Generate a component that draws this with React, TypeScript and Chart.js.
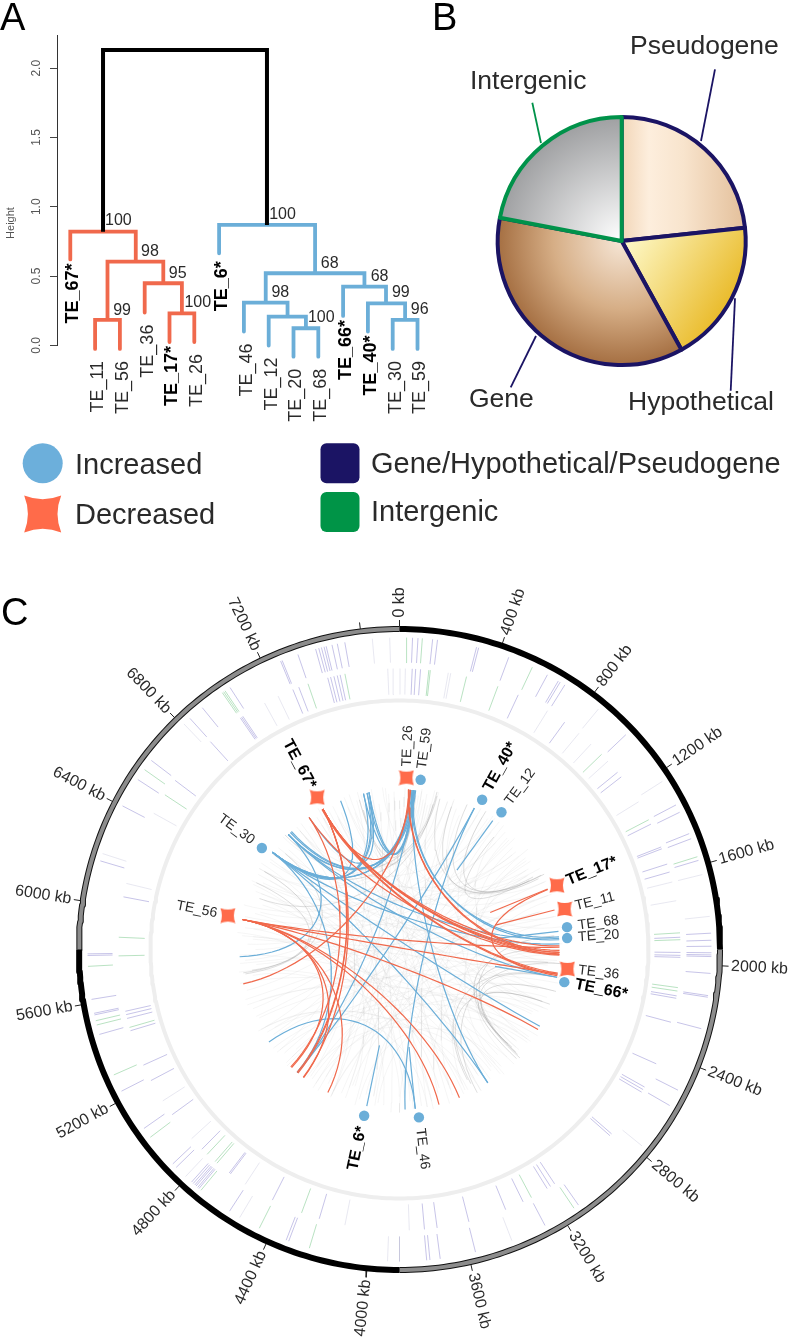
import { useEffect, useRef } from "react";
import { Chart, registerables } from "chart.js";

Chart.register(...registerables);

const FONT = '"Liberation Sans", Arial, sans-serif';
const BLUE = "#6baed8";
const ORANGE = "#f0694c";
const NAVY = "#1b1464";
const GREEN = "#00924a";

/* ---------- Panel A: dendrogram ---------- */
const heightTicks = [0, 0.5, 1, 1.5, 2];
const leafNames = ["TE_67*", "TE_11", "TE_56", "TE_36", "TE_17*", "TE_26", "TE_6*", "TE_46", "TE_12", "TE_20", "TE_68", "TE_66*", "TE_40*", "TE_30", "TE_59"];
const leafBottoms = [0.62, -0.026, -0.026, 0.236, 0.024, 0.024, 0.664, 0.099, -0.002, -0.082, -0.082, 0.212, 0.099, -0.026, -0.026];
// merges: left x, left bottom, right x, right bottom, merge height
const decreasedMerges = [
  [0, 0.62, 2.64, 0.604, 0.82],
  [1.5, 0.183, 3.75, 0.448, 0.604],
  [1, -0.026, 2, -0.026, 0.183],
  [3, 0.236, 4.5, 0.231, 0.448],
  [4, 0.024, 5, 0.024, 0.231],
];
const increasedMerges = [
  [6, 0.664, 9.87, 0.52, 0.869],
  [7.88, 0.308, 11.86, 0.424, 0.52],
  [7, 0.099, 8.76, 0.207, 0.308],
  [8, -0.002, 9.5, 0.123, 0.207],
  [9, -0.082, 10, -0.082, 0.123],
  [11, 0.212, 12.73, 0.303, 0.424],
  [12, 0.099, 13.5, 0.183, 0.303],
  [13, -0.026, 14, -0.026, 0.183],
];
const rootMerge = [[1.32, 0.82, 7.93, 0.869, 2.132]];
const supportText = ["100", "98", "95", "100", "99", "100", "68", "68", "98", "99", "96", "100"];
const supportX = [1.4, 2.85, 3.97, 4.6, 1.73, 8.02, 10.1, 12.11, 8.11, 12.97, 13.73, 9.58];
const supportY = [0.905, 0.681, 0.525, 0.315, 0.26, 0.953, 0.599, 0.505, 0.387, 0.385, 0.262, 0.207];

/* ---------- Panel B: pie ---------- */
const pieLabels = ["Pseudogene", "Hypothetical", "Gene", "Intergenic"];
const pieValues = [23.3, 18.7, 36, 22];

/* ---------- Panel C: circular map ---------- */
const genomeKb = 7750;
const kbTicks = [0, 400, 800, 1200, 1600, 2000, 2400, 2800, 3200, 3600, 4000, 4400, 4800, 5200, 5600, 6000, 6400, 6800, 7200];
const extraKbTicks = [7600];
const ringBlack = [[0, 1937.5], [3875, 5812.5]];
const ringGray = [[1937.5, 3875], [5812.5, 7750]];

// feature positions around the ring, degrees clockwise from 0 kb
const outerGene = [2.4, 3.4, 6.1, 7, 14.3, 14.7, 20.5, 28.3, 30.6, 31, 32, 46.5, 62.4, 63.9, 68.2, 69.2, 73.4, 87, 88.3, 89.4, 90.6, 91, 91.3, 94.4, 98.5, 98.8, 104.7, 116.8, 120, 145, 152.2, 165.9, 172.5, 174.4, 175, 200.8, 201.3, 213, 220, 220.3, 220.7, 221, 221.4, 221.8, 225.7, 226.6, 235, 243, 254.2, 257.9, 258.2, 260.8, 268.9, 269.2, 286.5, 297.4, 303, 307.3, 317.8, 320.8, 327.1, 337.6, 337.9, 341, 344.4, 345, 345.5, 346, 346.4, 347.5, 348.5, 349.9];
const outerIntergenic = [1.3, 4.2, 25.2, 72.7, 146, 196.8, 206.7, 219.5, 233, 246.3, 256, 256.8, 266.9, 305.2, 325.4, 325.7, 326];
const outerFaint = [39.6, 57.4, 76.1, 83.9, 129, 158.9, 180, 182.2, 210.8, 223.3, 287.9, 316.3, 355, 358.2];
const innerGene = [2.6, 3.3, 4.3, 25, 36, 50.9, 52.1, 63.5, 68.6, 69, 72.3, 74, 87.5, 90.6, 91.2, 91.6, 99.5, 100, 105, 114, 119.3, 119.9, 120.5, 131, 131.5, 146.5, 147.5, 148.3, 153.9, 157.8, 165.7, 172.3, 174.9, 196.6, 206.9, 217, 217.3, 224.7, 234, 242.2, 245.7, 253.2, 255.8, 256.6, 257.3, 280.8, 307, 317.7, 325.5, 325.8, 326.1, 337.7, 339, 345.2, 345.8, 346.5, 347.2, 347.8];
const innerIntergenic = [6, 6.3, 13.8, 20.5, 46, 62.5, 86.6, 88, 97.8, 98.5, 152, 200.4, 220.5, 221, 223.2, 253.9, 268.7, 272.5, 303.4, 341, 348.8];
const innerFaint = [357.6, 358.7, 0.1, 1.2, 10, 10.5, 31.8, 39.7, 43, 47.9, 58.3, 76.1, 80, 178, 191.2, 213.3, 227.7, 237.4, 283.6, 299, 331.3, 334.4];

// transposon insertions: degrees and distance from the ring centre
const markerNames = ["TE_67*", "TE_26", "TE_59", "TE_40*", "TE_12", "TE_17*", "TE_11", "TE_68", "TE_20", "TE_36", "TE_66*", "TE_46", "TE_6*", "TE_56", "TE_30"];
const markerDeg = [331.6, 2.3, 7.1, 28.9, 36.6, 67.8, 76.2, 82.4, 86.1, 96.6, 101.2, 173.4, 192, 281.2, 306.4];
const markerDist = [173, 172, 171, 171, 171, 170, 170, 169, 168, 169, 168, 169, 170, 175, 171];
const markerDecreased = [true, true, false, false, false, true, true, false, false, true, false, false, false, true, false];

// links: degrees at each end
const decreasedLinks = [
  [331.4, 91], [331.4, 90.3], [331.4, 91.6], [325.6, 92], [331.4, 88.7], [331.4, 98.5], [331, 99],
  [331.4, 219.4], [331.4, 219.8], [325.6, 222.8], [331.4, 217], [257.6, 4],
  [280.8, 89.2], [280.8, 98.8], [280.8, 120], [280.8, 158], [280.8, 165.7], [280.8, 206.6], [280.8, 216.8], [280.8, 222.4],
  [68, 99.4], [3.4, 91], [3.2, 91.8], [331.4, 3.4],
];
const increasedLinks = [
  [307.4, 348.3], [307.4, 347], [307.4, 349], [307.4, 338.4], [307.4, 5.2], [307.4, 5.8], [315.9, 4.5], [317.5, 4], [316, 3.8], [317, 5],
  [307.4, 118.7], [307.4, 146.5], [316, 267.4], [307.4, 219.8], [5, 219.7], [27.9, 178], [27.9, 219.7], [5, 146.5],
  [315.9, 86], [307.4, 88], [4.5, 85.5], [5, 86.5], [316, 100], [234.7, 174.3],
  [347, 5], [348.3, 5.2], [349, 5.5], [325.6, 349],
];
// short radial stubs: degrees, inner and outer distance
const decreasedStubs = [[67.8, 98, 160], [75.7, 99, 160]];
const increasedStubs = [[35.9, 98, 159], [191.8, 98, 160], [174.4, 98, 160], [100, 97, 160], [83.5, 98, 160]];
const backgroundLinks = [
  [10, 200], [12, 150], [14, 300], [15, 270], [18, 240], [20, 170], [22, 110], [24, 60], [30, 210], [32, 130], [34, 255], [38, 190], [40, 95],
  [42, 285], [44, 160], [46, 225], [48, 105], [50, 320], [52, 180], [54, 125], [56, 245], [58, 140], [60, 300],
  [70, 215], [72, 155], [78, 265], [80, 135], [84, 235], [88, 295], [92, 205], [94, 275], [96, 165], [102, 250], [106, 310], [108, 188], [112, 230], [114, 340], [116, 275],
  [122, 258], [124, 328], [126, 212], [128, 292], [135, 262], [137, 335], [139, 195], [141, 298], [143, 225],
  [148, 280], [150, 345], [154, 238], [156, 305], [160, 260], [162, 355], [164, 290], [168, 320], [170, 240], [176, 330], [180, 278], [183, 350],
  [186, 300], [189, 20], [193, 60], [196, 8], [199, 75], [202, 45], [205, 90], [208, 358], [210, 115], [212, 35], [214, 85], [216, 145], [218, 10], [224, 70], [226, 125],
  [228, 55], [232, 105], [236, 28], [238, 75], [240, 150], [244, 95], [248, 42], [250, 120], [252, 65], [264, 80], [266, 30], [268, 125],
  [272, 50], [274, 100], [276, 140], [278, 18], [282, 70], [284, 155], [286, 38], [288, 110], [292, 85], [294, 175], [296, 52], [298, 128], [302, 168], [304, 92], [310, 68],
  [312, 148], [314, 36], [318, 198], [320, 112], [322, 178], [324, 58], [328, 145], [330, 205], [333, 120], [335, 78], [337, 190], [340, 100], [342, 160], [344, 215], [346, 65],
  [350, 130], [352, 200], [354, 82], [356, 230], [358, 172], [0, 142], [2, 205], [6, 305], [7, 315], [8, 320], [9, 330], [11, 335], [12.5, 342],
];
const bundleLinks = [
  [13.7, 307], [13, 290], [13.4, 315], [345.5, 5], [345, 6],
  [62.3, 25], [61.5, 20], [62, 40], [62.5, 32], [63, 15],
  [131.6, 100], [131, 95], [132, 105], [131, 90], [131.4, 85], [133, 110],
  [152, 110], [152.5, 100], [151.5, 95],
  [261, 300], [261.5, 295], [262, 310],
];
const linkReach = [158, 149, 162, 144, 155, 160, 152, 147, 163, 156];

const rad = (d: number) => (d * Math.PI) / 180;
const polar = (deg: number, r: number) => ({ x: r * Math.sin(rad(deg)), y: r * Math.cos(rad(deg)) });
const kbToDeg = (kb: number) => (kb / genomeKb) * 360;
const BREAK = { x: NaN, y: NaN };

function bezier(a: number, b: number, r = 160, k = 0.47) {
  const A = polar(a, r);
  const B = polar(b, r);
  const out: { x: number; y: number }[] = [];
  const n = 28;
  for (let i = 0; i <= n; i++) {
    const t = i / n;
    const u = 1 - t;
    const c0 = u * u * u;
    const c1 = 3 * u * u * t * k;
    const c2 = 3 * u * t * t * k;
    const c3 = t * t * t;
    out.push({ x: (c0 + c1) * A.x + (c2 + c3) * B.x, y: (c0 + c1) * A.y + (c2 + c3) * B.y });
  }
  return out;
}

function arcPoints(kb0: number, kb1: number, r: number) {
  const d0 = kbToDeg(kb0);
  const d1 = kbToDeg(kb1);
  const out: { x: number; y: number }[] = [];
  const n = Math.ceil(d1 - d0);
  for (let i = 0; i <= n; i++) out.push(polar(d0 + ((d1 - d0) * i) / n, r));
  return out;
}

function radial(list: number[], r0: number, r1: number) {
  const out: { x: number; y: number }[] = [];
  list.forEach((d) => out.push(polar(d, r0), polar(d, r1), BREAK));
  return out;
}

function mergePath(list: number[][]) {
  const out: { x: number; y: number }[] = [];
  list.forEach(([lx, lb, rx, rb, h]) => {
    out.push({ x: lx, y: lb }, { x: lx, y: h }, { x: rx, y: h }, { x: rx, y: rb }, BREAK);
  });
  return out;
}

function starPath(ctx: CanvasRenderingContext2D, cx: number, cy: number, s: number) {
  const p = 0.6 * s;
  ctx.beginPath();
  ctx.moveTo(cx - s, cy - s);
  ctx.quadraticCurveTo(cx, cy - p, cx + s, cy - s);
  ctx.quadraticCurveTo(cx + p, cy, cx + s, cy + s);
  ctx.quadraticCurveTo(cx, cy + p, cx - s, cy + s);
  ctx.quadraticCurveTo(cx - p, cy, cx - s, cy - s);
  ctx.closePath();
}

function text(ctx: CanvasRenderingContext2D, s: string, x: number, y: number, size: number, opts: { bold?: boolean; rot?: number; align?: CanvasTextAlign; color?: string } = {}) {
  ctx.save();
  ctx.translate(x, y);
  ctx.rotate(opts.rot || 0);
  ctx.font = `${opts.bold ? "bold " : ""}${size}px ${FONT}`;
  ctx.fillStyle = opts.color || (opts.bold ? "#000" : "#2a2a2a");
  ctx.textAlign = opts.align || "left";
  ctx.textBaseline = "middle";
  ctx.fillText(s, 0, 0);
  ctx.restore();
}

const base = {
  responsive: false,
  animation: false as const,
  events: [] as never[],
  plugins: { legend: { display: false }, tooltip: { enabled: false } },
};

export default function App() {
  const aRef = useRef<HTMLCanvasElement>(null);
  const bRef = useRef<HTMLCanvasElement>(null);
  const cRef = useRef<HTMLCanvasElement>(null);

  useEffect(() => {
    /* ---- Panel A ---- */
    const a = new Chart(aRef.current!, {
      type: "scatter",
      data: {
        datasets: [
          { data: mergePath(rootMerge), showLine: true, pointRadius: 0, borderColor: "#000", borderWidth: 4, borderCapStyle: "butt", borderJoinStyle: "miter", clip: false },
          { data: mergePath(decreasedMerges), showLine: true, pointRadius: 0, borderColor: ORANGE, borderWidth: 3.8, borderCapStyle: "round", borderJoinStyle: "miter", clip: false },
          { data: mergePath(increasedMerges), showLine: true, pointRadius: 0, borderColor: BLUE, borderWidth: 3.8, borderCapStyle: "round", borderJoinStyle: "miter", clip: false },
        ],
      },
      options: {
        ...base,
        layout: { autoPadding: false, padding: { left: 57, top: 35, right: 10, bottom: 430 - 345.3 } },
        scales: {
          x: { type: "linear", display: false, min: -0.536, max: 15.31 },
          y: {
            type: "linear",
            min: 0,
            max: 2.24,
            afterFit: (s: any) => { s.width = 0; },
            ticks: { display: false, stepSize: 0.5, includeBounds: false },
            grid: { drawOnChartArea: false, drawTicks: true, tickLength: 7, color: "#444", lineWidth: 1 },
            border: { display: true, color: "#333", width: 1 },
          },
        },
      },
      plugins: [{
        id: "dendroText",
        afterDatasetsDraw(chart: any) {
          const { ctx, scales: { x, y } } = chart;
          text(ctx, "A", 0, 20, 38, { color: "#000" });
          heightTicks.forEach((v) => text(ctx, v.toFixed(1), 37, y.getPixelForValue(v), 12, { rot: -Math.PI / 2, align: "center", color: "#555" }));
          text(ctx, "Height", 11, 223, 11, { rot: -Math.PI / 2, align: "center", color: "#555" });
          supportText.forEach((s, i) => text(ctx, s, x.getPixelForValue(supportX[i]), y.getPixelForValue(supportY[i]) + 1, 16));
          leafNames.forEach((n, i) => {
            const bold = n.endsWith("*");
            const gap = n === "TE_6*" ? 8 : bold ? 4 : 12;
            text(ctx, n, x.getPixelForValue(i) + 3, y.getPixelForValue(leafBottoms[i]) + gap, 18, { bold, rot: -Math.PI / 2, align: "right" });
          });
        },
      }],
    } as any);

    /* ---- Panel B ---- */
    const gradient = (c: any) => {
      const area = c.chart.chartArea;
      if (!area) return "#ccc";
      const g = c.chart.ctx as CanvasRenderingContext2D;
      const cx = (area.left + area.right) / 2;
      const cy = (area.top + area.bottom) / 2;
      const R = 124;
      let fill: CanvasGradient;
      if (c.dataIndex === 0) {
        fill = g.createLinearGradient(cx, cy, cx + R, cy);
        fill.addColorStop(0, "#f2d6b8");
        fill.addColorStop(0.22, "#fdeedd");
        fill.addColorStop(0.5, "#f8e4cd");
        fill.addColorStop(1, "#e3bf9a");
      } else if (c.dataIndex === 1) {
        fill = g.createLinearGradient(cx + 5, cy + 5, cx + R * 0.9, cy + R * 0.6);
        fill.addColorStop(0, "#fdf7c4");
        fill.addColorStop(1, "#e8b61e");
      } else if (c.dataIndex === 2) {
        fill = g.createRadialGradient(cx, cy, 0, cx, cy, R);
        fill.addColorStop(0, "#f6e6d6");
        fill.addColorStop(0.55, "#d6ae86");
        fill.addColorStop(1, "#a56f42");
      } else {
        fill = g.createRadialGradient(cx, cy, 0, cx, cy, R);
        fill.addColorStop(0, "#ffffff");
        fill.addColorStop(1, "#9fa0a2");
      }
      return fill;
    };
    const leftPad = 75.7;
    const b = new Chart(bRef.current!, {
      type: "pie",
      data: {
        labels: pieLabels,
        datasets: [{ data: pieValues, backgroundColor: gradient, borderColor: [NAVY, NAVY, NAVY, GREEN], borderWidth: 4, borderJoinStyle: "round", hoverOffset: 0 }],
      },
      options: {
        ...base,
        layout: { autoPadding: false, padding: { left: leftPad, top: 115, right: 369 - leftPad - 252, bottom: 430 - 115 - 252 } },
      },
      plugins: [{
        id: "pieText",
        afterDatasetsDraw(chart: any) {
          const { ctx } = chart;
          const ox = -420;
          const leader = (x0: number, y0: number, x1: number, y1: number, color: string) => {
            ctx.save();
            ctx.strokeStyle = color;
            ctx.lineWidth = 1.8;
            ctx.beginPath();
            ctx.moveTo(x0 + ox, y0);
            ctx.lineTo(x1 + ox, y1);
            ctx.stroke();
            ctx.restore();
          };
          leader(715, 69.3, 701, 141, NAVY);
          leader(532.3, 102.7, 541, 143, GREEN);
          leader(510.7, 387.3, 536, 336, NAVY);
          leader(730.7, 390.7, 735, 298.3, NAVY);
          text(ctx, "B", 432 + ox, 20, 38, { color: "#000" });
          text(ctx, "Pseudogene", 630 + ox, 46.5, 26.5);
          text(ctx, "Intergenic", 470 + ox, 81.5, 26.5);
          text(ctx, "Gene", 469 + ox, 400, 26.5);
          text(ctx, "Hypothetical", 628 + ox, 403, 26.5);
        },
      }],
    } as any);

    /* ---- Panel C ---- */
    const star = document.createElement("canvas");
    star.width = 16;
    star.height = 16;
    const sctx = star.getContext("2d")!;
    sctx.fillStyle = "#ff6b4a";
    starPath(sctx, 8, 8, 7.5);
    sctx.fill();

    const line = (data: any[], color: string, width: number) => ({
      data, showLine: true, pointRadius: 0, borderColor: color, borderWidth: width, borderCapStyle: "butt", borderJoinStyle: "round",
    });
    const tickBlue = "rgba(70,60,180,0.3)";
    const tickGreen = "rgba(60,175,85,0.36)";
    const tickFaint = "rgba(150,150,190,0.22)";
    const layers: any[] = [];
    backgroundLinks.forEach(([p, q], i) => layers.push(line(bezier(p, q, linkReach[i % linkReach.length]), "rgba(170,170,170,0.11)", 1)));
    bundleLinks.forEach(([p, q], i) => layers.push(line(bezier(p, q, linkReach[i % linkReach.length]), "rgba(150,150,150,0.3)", 1)));
    increasedLinks.forEach(([p, q]) => layers.push(line(bezier(p, q), BLUE, 1.2)));
    increasedStubs.forEach(([d, r0, r1]) => layers.push(line([polar(d, r0), polar(d, r1)], BLUE, 1.2)));
    decreasedLinks.forEach(([p, q]) => layers.push(line(bezier(p, q), ORANGE, 1.2)));
    decreasedStubs.forEach(([d, r0, r1]) => layers.push(line([polar(d, r0), polar(d, r1)], ORANGE, 1.2)));
    layers.push(line(radial(outerFaint, 287, 312), tickFaint, 1));
    layers.push(line(radial(outerGene, 287, 312), tickBlue, 1));
    layers.push(line(radial(outerIntergenic, 287, 312), tickGreen, 1));
    layers.push(line(radial(innerFaint, 255, 281), tickFaint, 1));
    layers.push(line(radial(innerGene, 255, 281), tickBlue, 1));
    layers.push(line(radial(innerIntergenic, 255, 281), tickGreen, 1));
    layers.push(line(arcPoints(0, genomeKb, 249), "#eeeeee", 4));
    kbTicks.concat(extraKbTicks).forEach((kb) => {
      const d = kbToDeg(kb);
      layers.push(line([polar(d, 323), polar(d, 329.5)], "#222", 1));
    });
    ringGray.forEach(([s, e]) => {
      layers.push(line(arcPoints(s, e, 320.5), "#111", 6));
      layers.push(line(arcPoints(s, e, 320.5), "#8c8c8c", 4));
    });
    ringBlack.forEach(([s, e]) => layers.push(line(arcPoints(s, e, 320.5), "#000", 6)));
    const mk = (flag: boolean) => markerNames.map((_, i) => i).filter((i) => markerDecreased[i] === flag).map((i) => polar(markerDeg[i], markerDist[i]));
    layers.push({ data: mk(false), pointStyle: "circle", pointRadius: 5.2, pointBackgroundColor: BLUE, pointBorderWidth: 0 });
    layers.push({ data: mk(true), pointStyle: star, pointRadius: 8, pointBorderWidth: 0 });
    layers.reverse();

    const c = new Chart(cRef.current!, {
      type: "scatter",
      data: { datasets: layers },
      options: {
        ...base,
        layout: { autoPadding: false, padding: 0 },
        scales: {
          x: { type: "linear", display: false, min: -399.5, max: 389.5 },
          y: { type: "linear", display: false, min: -388.5, max: 519.5 },
        },
      },
      plugins: [{
        id: "mapText",
        afterDatasetsDraw(chart: any) {
          const { ctx, scales: { x, y } } = chart;
          const oy = -430;
          // legend
          ctx.save();
          ctx.fillStyle = "#6cafdb";
          ctx.beginPath();
          ctx.arc(42.7, 463.3 + oy, 20, 0, Math.PI * 2);
          ctx.fill();
          ctx.fillStyle = "#ff6b4a";
          starPath(ctx, 42.7, 514 + oy, 18.5);
          ctx.fill();
          ctx.fillStyle = NAVY;
          ctx.beginPath();
          ctx.roundRect(320.5, 443.3 + oy, 39, 40, 6);
          ctx.fill();
          ctx.fillStyle = "#009447";
          ctx.beginPath();
          ctx.roundRect(320.5, 492 + oy, 39, 40, 6);
          ctx.fill();
          ctx.restore();
          text(ctx, "Increased", 75, 465.5 + oy, 29);
          text(ctx, "Decreased", 75, 515.5 + oy, 29);
          text(ctx, "Gene/Hypothetical/Pseudogene", 371, 464.5 + oy, 29);
          text(ctx, "Intergenic", 371, 512.5 + oy, 29);
          text(ctx, "C", 1, 615 + oy, 38, { color: "#000" });

          const radialText = (s: string, deg: number, r: number, size: number, bold: boolean) => {
            const p = polar(deg, r);
            const px = x.getPixelForValue(p.x);
            const py = y.getPixelForValue(p.y);
            const right = deg < 180;
            text(ctx, s, px, py, size, { bold, rot: rad(right ? deg - 90 : deg + 90), align: right ? "left" : "right" });
          };
          kbTicks.forEach((kb) => radialText(`${kb} kb`, kbToDeg(kb), 332, 16, false));
          markerNames.forEach((n, i) => radialText(n, markerDeg[i], markerDist[i] + 11, n.endsWith("*") ? 16 : 14, n.endsWith("*")));
        },
      }],
    } as any);

    return () => {
      a.destroy();
      b.destroy();
      c.destroy();
    };
  }, []);

  const abs = { position: "absolute" as const, display: "block" };
  return (
    <div style={{ position: "absolute", left: 0, top: 0, width: 789, height: 1338, overflow: "hidden", background: "#fff" }}>
      <canvas ref={cRef} width={789} height={908} style={{ ...abs, left: 0, top: 430 }} />
      <canvas ref={aRef} width={460} height={430} style={{ ...abs, left: 0, top: 0 }} />
      <canvas ref={bRef} width={369} height={430} style={{ ...abs, left: 420, top: 0 }} />
    </div>
  );
}
